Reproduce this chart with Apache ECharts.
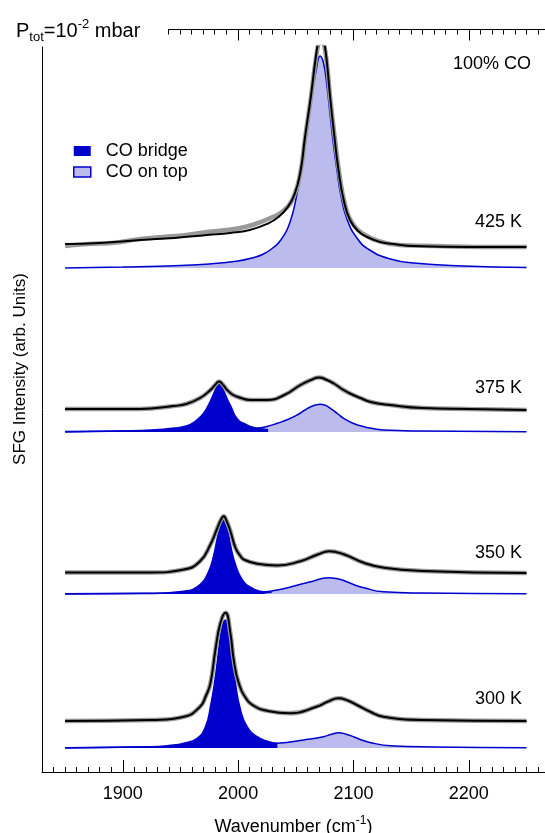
<!DOCTYPE html>
<html>
<head>
<meta charset="utf-8">
<title>SFG spectra of CO</title>
<script src="https://cdn.jsdelivr.net/npm/echarts@6/dist/echarts.min.js"></script>
<style>
  html, body { margin: 0; padding: 0; background: #fff; }
  #main-chart { width: 545px; height: 833px; }
</style>
</head>
<body>
<div id="main-chart"></div>
<script>
// tick labels of the wavenumber axis
const xLabels = [1900, 2000, 2100, 2200];
const topMajor = [2000, 2100, 2200];

// one spectrum per temperature, stacked with an offset (arb. units)
const temps = ['425 K', '375 K', '350 K', '300 K'];
const offsets = [504, 340, 178, 24];

// 425 K
const gray425 = [[1850,22],[1870,24],[1890,25],[1915,29],[1935,31],[1955,33],[1973,36],[1990,38],[2002,40],[2015,44],[2028,50],[2039,57],[2048,71],[2054,96],[2058,130],[2063,170],[2067,206],[2070,226],[2072,230],[2074,226],[2077,204],[2080,168],[2084,128],[2088,92],[2093,62],[2099,45],[2110,33],[2125,26],[2140,23],[2170,22],[2210,21],[2250,21]];
const black425 = [[1850,24],[1880,25],[1915,28],[1945,30],[1973,33],[1993,35],[2010,38],[2025,44],[2035,51],[2043,61],[2049,74],[2054,96],[2058,131],[2063,171],[2067,208],[2070,230],[2071.5,234],[2073,232],[2075,223],[2077,205],[2080,168],[2083.5,131],[2087,98],[2091.5,68],[2097,48],[2104,37],[2112,31],[2123,26],[2135,24],[2152,22],[2200,21],[2250,21]];
const top425 = [[1850,0],[1900,1],[1950,2.5],[1975,4],[2000,7],[2012,10],[2022,14],[2030,20],[2037,28],[2045,46],[2051,74],[2055,100],[2060,138],[2064,172],[2068,200],[2071,212],[2074,205],[2077,182],[2080,150],[2083,120],[2086,95],[2089,73],[2094,50],[2103,30],[2114,18],[2132,9],[2152,5],[2195,2],[2250,0.5]];

// 375 K
const black375 = [[1850,23],[1915,23],[1944,26],[1955,28],[1967,34],[1976,42],[1980,47],[1983.5,50.5],[1987,47],[1990.5,42],[1995,37.5],[2000,35],[2011,32],[2025,32],[2040,37],[2054,47],[2063,52],[2070,54.5],[2077,52],[2083,48.5],[2090,43],[2097,38.5],[2106,34],[2115,30],[2132,27],[2160,24],[2200,23],[2250,22]];
const bridge375 = [[1850,0],[1900,1],[1925,2],[1945,4],[1955,6],[1962,10],[1968,16],[1972,22],[1976,31],[1979,39],[1981,44],[1983,48],[1985,46],[1988,40],[1991,32],[1994,25],[1997,17],[2001,11],[2006,8],[2012,5],[2019,3.3],[2026,2.2]];
const top375 = [[1850,0.5],[1900,1],[1950,1.5],[2000,3],[2016,3.7],[2025,5.5],[2034,8.7],[2043,12.5],[2051,17],[2058,22],[2063,25.3],[2068,27.3],[2071,27.7],[2075,27],[2080,23.7],[2086,18.5],[2091.5,13.7],[2100,8.5],[2109,5.3],[2126,2],[2160,1],[2250,0.3]];

// 350 K
const black350 = [[1850,21.5],[1924,21.5],[1953,24.5],[1967,32.8],[1976,49.5],[1982,66],[1985,74],[1987.5,77.8],[1990,73],[1993.3,62.8],[1997.7,46.2],[2002,38],[2005,34.5],[2016.5,30.2],[2034,28.5],[2054,32.8],[2069,39.5],[2079,42.8],[2092,39.5],[2109,31.2],[2126.5,26.2],[2160,23],[2250,21]];
const bridge350 = [[1850,0],[1924,0.5],[1953,2.8],[1967,9.5],[1974.5,22.8],[1979,39.5],[1982,56],[1985.3,69.5],[1987.5,74.5],[1990.5,66],[1993.3,49.5],[1997.7,29.5],[2003.5,14.5],[2010.7,6.8],[2022,2.2],[2029,1.5]];
const top350 = [[1850,0.3],[1950,1],[2000,1.8],[2022,2.2],[2034,4],[2045,6.8],[2055,10],[2063,12.2],[2071,15],[2078.5,16.2],[2085,15.5],[2091.5,13.5],[2100,9.5],[2109,6.2],[2126,2.2],[2160,1],[2250,0.3]];

// 300 K
const black300 = [[1850,27],[1924,28],[1953,31.3],[1967,41.3],[1972,52],[1976,64.7],[1980.3,98],[1984.6,124.7],[1989,135.3],[1993.3,114.7],[1996.2,88],[2000.6,64.7],[2007.8,48],[2014,42],[2022,38],[2045,34.7],[2068,41.3],[2078,46.5],[2087,49.7],[2095,47.5],[2103,43],[2115,36],[2126,31.3],[2160,28],[2250,27]];
const bridge300 = [[1850,0],[1924,1.3],[1940,2.5],[1953,4.7],[1964.5,9.7],[1971.7,21.3],[1976,41.3],[1980.3,71.3],[1983.2,98],[1986.2,121.3],[1989,128],[1992,118],[1994.9,91.3],[1997.7,64.7],[2002.1,38],[2007.8,21.3],[2016.5,11.3],[2026,6.5],[2034,4.5]];
const top300 = [[1850,0.3],[1950,1.5],[2000,3],[2034,4.7],[2057,8],[2074,11.3],[2081,13.8],[2087,15.3],[2093,14],[2100,11.3],[2107,8],[2115,5.3],[2132,2.3],[2170,1],[2250,0.3]];

const spectra = [
    { gray: gray425, fit: black425, bridge: null, top: top425 },
    { gray: black375, fit: black375, bridge: bridge375, top: top375 },
    { gray: black350, fit: black350, bridge: bridge350, top: top350 },
    { gray: black300, fit: black300, bridge: bridge300, top: top300 }
];

const BLUE = '#0000cc';
const LIGHT = '#bbbbee';
const FONT = 'Arial, "Liberation Sans", sans-serif';

const shift = (arr, off) => arr.map(p => [p[0], p[1] + off]);

let chartDom = document.getElementById('main-chart');
let myChart = echarts.init(chartDom);

let series = [];
spectra.forEach((s, i) => {
    const off = offsets[i];
    const common = { type: 'line', xAxisIndex: 0, yAxisIndex: 0, symbol: 'none', smooth: 0.5, silent: true };
    series.push(Object.assign({}, common, {
        name: 'CO on top',
        data: shift(s.top, off),
        lineStyle: { color: BLUE, width: 1.5 },
        itemStyle: { color: LIGHT },
        areaStyle: { color: LIGHT, opacity: 1, origin: off }
    }));
    if (s.bridge) {
        series.push(Object.assign({}, common, {
            name: 'CO bridge',
            data: shift(s.bridge, off),
            lineStyle: { color: BLUE, width: 1.5 },
            itemStyle: { color: BLUE },
            areaStyle: { color: BLUE, opacity: 1, origin: off }
        }));
    }
    // measured points
    series.push(Object.assign({}, common, {
        name: 'data ' + temps[i],
        data: shift(s.gray, off),
        lineStyle: { color: '#999', width: 4.5 }
    }));
    // fit
    series.push(Object.assign({}, common, {
        name: 'fit ' + temps[i],
        data: shift(s.fit, off),
        lineStyle: { color: '#000', width: 2 }
    }));
});

const tempY = [222, 388, 553, 699];
let graphic = temps.map((t, i) => ({
    type: 'text', x: 522, y: tempY[i],
    style: { text: t, font: '18px ' + FONT, fill: '#000', align: 'right', verticalAlign: 'middle', textAlign: 'right', textVerticalAlign: 'middle' }
}));
graphic.push({
    type: 'text', x: 531, y: 64,
    style: { text: '100% CO', font: '18px ' + FONT, fill: '#000', align: 'right', verticalAlign: 'middle', textAlign: 'right', textVerticalAlign: 'middle' }
});
graphic.push({
    type: 'text', x: 20, y: 369, rotation: Math.PI / 2,
    style: { text: 'SFG Intensity (arb. Units)', font: '17px ' + FONT, fill: '#000', align: 'center', verticalAlign: 'middle', textAlign: 'center', textVerticalAlign: 'middle' }
});
graphic.push({
    type: 'text', x: 16, y: 31,
    style: {
        text: '{a|P}{sub|tot}{a|=10}{sup|-2}{a| mbar}',
        verticalAlign: 'middle', textVerticalAlign: 'middle',
        rich: {
            a: { fontSize: 20, fontFamily: FONT, fill: '#000', color: '#000', lineHeight: 26 },
            sub: { fontSize: 13, fontFamily: FONT, fill: '#000', color: '#000', lineHeight: 13, verticalAlign: 'bottom' },
            sup: { fontSize: 13, fontFamily: FONT, fill: '#000', color: '#000', lineHeight: 13, verticalAlign: 'top' }
        }
    }
});

let option = {
    backgroundColor: '#fff',
    animation: false,
    textStyle: { fontFamily: FONT },
    legend: {
        orient: 'vertical', left: 68, top: 137,
        itemWidth: 17, itemHeight: 10, itemGap: 3, icon: 'rect',
        selectedMode: false,
        textStyle: { fontSize: 18, color: '#000', padding: [0, 0, 0, 10] },
        data: [
            { name: 'CO bridge', itemStyle: { color: BLUE } },
            { name: 'CO on top', itemStyle: { color: LIGHT, borderColor: BLUE, borderWidth: 1.5 } }
        ]
    },
    grid: [
        { left: 42, right: 0, top: 47, bottom: 61, outerBoundsMode: 'none' },
        { left: 168.5, right: 0, top: 29.5, height: 1, outerBoundsMode: 'none' }
    ],
    xAxis: [
        {
            gridIndex: 0, type: 'value', position: 'bottom', min: 1830, max: 2266, interval: 10,
            axisLine: { onZero: false, lineStyle: { color: '#000', width: 1 } },
            axisTick: { inside: true, length: 5, lineStyle: { color: '#000' } },
            axisLabel: { customValues: xLabels, formatter: v => String(v), fontSize: 18, color: '#000', margin: 13 },
            splitLine: { show: false },
            name: '{a|Wavenumber (cm}{sup|-1}{a|)}', nameLocation: 'middle', nameGap: 43,
            nameTextStyle: {
                rich: {
                    a: { fontSize: 18, color: '#000', lineHeight: 24 },
                    sup: { fontSize: 12, color: '#000', lineHeight: 12, verticalAlign: 'top' }
                }
            }
        },
        {
            gridIndex: 0, type: 'value', position: 'bottom', min: 1830, max: 2266,
            axisLine: { show: false, onZero: false },
            axisTick: { inside: true, length: 12, customValues: xLabels, lineStyle: { color: '#000' } },
            axisLabel: { show: false },
            splitLine: { show: false }
        },
        {
            gridIndex: 1, type: 'value', position: 'top', min: 1940, max: 2266, interval: 10,
            axisLine: { onZero: false, lineStyle: { color: '#000', width: 1 } },
            axisTick: { inside: true, length: 5, lineStyle: { color: '#000' } },
            axisLabel: { show: false },
            splitLine: { show: false }
        },
        {
            gridIndex: 1, type: 'value', position: 'top', min: 1940, max: 2266,
            axisLine: { show: false, onZero: false },
            axisTick: { inside: true, length: 11, customValues: topMajor, lineStyle: { color: '#000' } },
            axisLabel: { show: false },
            splitLine: { show: false }
        }
    ],
    yAxis: [
        {
            gridIndex: 0, type: 'value', min: 0, max: 725,
            axisLine: { show: true, onZero: false, lineStyle: { color: '#000', width: 1 } },
            axisTick: { show: false },
            axisLabel: { show: false },
            splitLine: { show: false }
        },
        { gridIndex: 1, type: 'value', min: 0, max: 1, show: false }
    ],
    graphic: graphic,
    series: series
};

myChart.setOption(option);
</script>
</body>
</html>
